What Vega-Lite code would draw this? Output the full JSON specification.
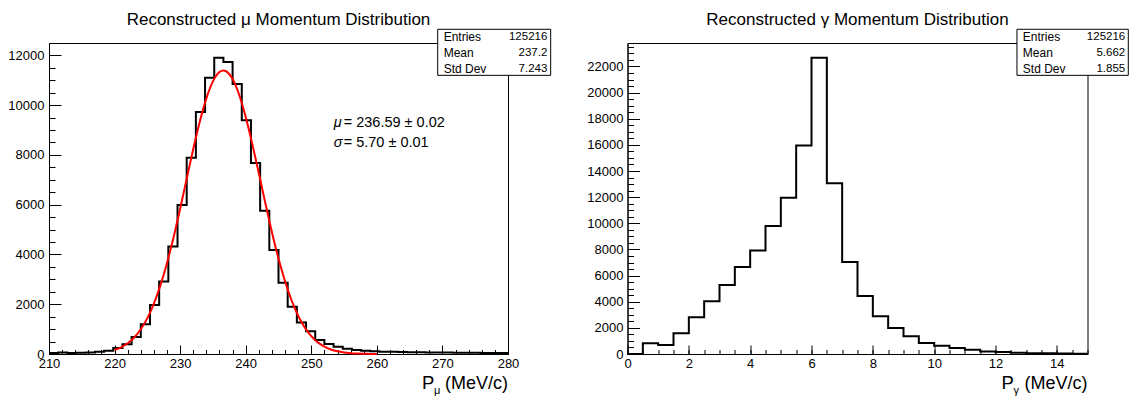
{
  "$schema": "https://vega.github.io/schema/vega-lite/v6.json",
  "background": "white",
  "padding": {"left": 7, "top": 10, "right": 5, "bottom": 0},
  "spacing": 33.5,
  "datasets": {
    "mu": [
      {"p": 210, "count": 40}, {"p": 211.4, "count": 60}, {"p": 212.8, "count": 40}, {"p": 214.2, "count": 50},
      {"p": 215.6, "count": 60}, {"p": 217, "count": 90}, {"p": 218.4, "count": 130}, {"p": 219.8, "count": 240},
      {"p": 221.2, "count": 390}, {"p": 222.6, "count": 680}, {"p": 224, "count": 1200}, {"p": 225.4, "count": 1970},
      {"p": 226.8, "count": 2910}, {"p": 228.2, "count": 4320}, {"p": 229.6, "count": 5990}, {"p": 231, "count": 7880},
      {"p": 232.4, "count": 9720}, {"p": 233.8, "count": 11100}, {"p": 235.2, "count": 11900}, {"p": 236.6, "count": 11730},
      {"p": 238, "count": 10850}, {"p": 239.4, "count": 9390}, {"p": 240.8, "count": 7670}, {"p": 242.2, "count": 5760},
      {"p": 243.6, "count": 4180}, {"p": 245, "count": 2860}, {"p": 246.4, "count": 1900}, {"p": 247.8, "count": 1270},
      {"p": 249.2, "count": 910}, {"p": 250.6, "count": 560}, {"p": 252, "count": 400}, {"p": 253.4, "count": 295},
      {"p": 254.8, "count": 215}, {"p": 256.2, "count": 160}, {"p": 257.6, "count": 135}, {"p": 259, "count": 107},
      {"p": 260.4, "count": 95}, {"p": 261.8, "count": 90}, {"p": 263.2, "count": 85}, {"p": 264.6, "count": 75},
      {"p": 266, "count": 75}, {"p": 267.4, "count": 65}, {"p": 268.8, "count": 60}, {"p": 270.2, "count": 60},
      {"p": 271.6, "count": 55}, {"p": 273, "count": 50}, {"p": 274.4, "count": 50}, {"p": 275.8, "count": 45},
      {"p": 277.2, "count": 40}, {"p": 278.6, "count": 45}, {"p": 280, "count": 45}
    ],
    "mufit": [
      {"p": 220, "f": 165}, {"p": 221, "f": 270}, {"p": 222, "f": 430}, {"p": 223, "f": 664}, {"p": 224, "f": 994},
      {"p": 225, "f": 1441}, {"p": 226, "f": 2027}, {"p": 227, "f": 2765}, {"p": 228, "f": 3659}, {"p": 229, "f": 4693},
      {"p": 230, "f": 5839}, {"p": 231, "f": 7041}, {"p": 232, "f": 8236}, {"p": 233, "f": 9341}, {"p": 234, "f": 10272},
      {"p": 235, "f": 10955}, {"p": 236, "f": 11329}, {"p": 236.59, "f": 11390}, {"p": 237, "f": 11360}, {"p": 238, "f": 11047},
      {"p": 239, "f": 10416}, {"p": 240, "f": 9523}, {"p": 241, "f": 8443}, {"p": 242, "f": 7260}, {"p": 243, "f": 6053},
      {"p": 244, "f": 4893}, {"p": 245, "f": 3835}, {"p": 246, "f": 2916}, {"p": 247, "f": 2149}, {"p": 248, "f": 1536},
      {"p": 249, "f": 1065}, {"p": 250, "f": 716}, {"p": 251, "f": 466}, {"p": 252, "f": 295}, {"p": 253, "f": 181},
      {"p": 254, "f": 107}, {"p": 255, "f": 62}, {"p": 256, "f": 35}, {"p": 257, "f": 19}, {"p": 258, "f": 10},
      {"p": 259, "f": 5}, {"p": 260, "f": 3}
    ],
    "gamma": [
      {"p": 0, "count": 0}, {"p": 0.5, "count": 817}, {"p": 1, "count": 690}, {"p": 1.5, "count": 1580},
      {"p": 2, "count": 2810}, {"p": 2.5, "count": 4030}, {"p": 3, "count": 5280}, {"p": 3.5, "count": 6660},
      {"p": 4, "count": 7910}, {"p": 4.5, "count": 9800}, {"p": 5, "count": 11950}, {"p": 5.5, "count": 15950},
      {"p": 6, "count": 22660}, {"p": 6.5, "count": 13070}, {"p": 7, "count": 7040}, {"p": 7.5, "count": 4440},
      {"p": 8, "count": 2880}, {"p": 8.5, "count": 1990}, {"p": 9, "count": 1350}, {"p": 9.5, "count": 840},
      {"p": 10, "count": 640}, {"p": 10.5, "count": 460}, {"p": 11, "count": 330}, {"p": 11.5, "count": 200},
      {"p": 12, "count": 150}, {"p": 12.5, "count": 100}, {"p": 13, "count": 60}, {"p": 13.5, "count": 50},
      {"p": 14, "count": 30}, {"p": 14.5, "count": 20}, {"p": 15, "count": 20}
    ],
    "one": [{}]
  },
  "hconcat": [
    {
      "width": 459,
      "height": 311,
      "title": {"text": "Reconstructed μ Momentum Distribution", "fontSize": 17, "fontWeight": "normal", "color": "black", "font": "Liberation Sans", "anchor": "middle", "frame": "group", "baseline": "alphabetic", "offset": -13},
      "resolve": {"axis": {"x": "independent", "y": "independent"}},
      "layer": [
        {
          "data": {"name": "mu"},
          "mark": {"type": "line", "interpolate": "step-after", "color": "black", "strokeWidth": 2},
          "encoding": {
            "x": {"field": "p", "type": "quantitative", "scale": {"domain": [210, 280], "nice": false, "zero": false},
              "axis": {"orient": "bottom", "title": null, "format": "d", "values": [210, 220, 230, 240, 250, 260, 270, 280],
                "tickSize": -9, "labelPadding": 12.5, "labelOverlap": false, "labelFlush": false}},
            "y": {"field": "count", "type": "quantitative", "scale": {"domain": [0, 12495], "nice": false},
              "axis": {"orient": "left", "title": null, "format": "d", "values": [0, 2000, 4000, 6000, 8000, 10000, 12000],
                "tickSize": -12, "labelPadding": 17, "labelOverlap": false, "labelFlush": false}}
          }
        },
        {
          "data": {"name": "mufit"},
          "mark": {"type": "line", "interpolate": "monotone", "color": "#ff0000", "strokeWidth": 2},
          "encoding": {
            "x": {"field": "p", "type": "quantitative",
              "axis": {"orient": "bottom", "title": null, "labels": false, "domain": false, "tickSize": -4.5,
                "values": [210,212,214,216,218,220,222,224,226,228,230,232,234,236,238,240,242,244,246,248,250,252,254,256,258,260,262,264,266,268,270,272,274,276,278,280]}},
            "y": {"field": "f", "type": "quantitative",
              "axis": {"orient": "left", "title": null, "labels": false, "domain": false, "tickSize": -6,
                "values": [0,500,1000,1500,2000,2500,3000,3500,4000,4500,5000,5500,6000,6500,7000,7500,8000,8500,9000,9500,10000,10500,11000,11500,12000]}}
          }
        },
        {
          "data": {"name": "one"},
          "mark": {"type": "text", "font": "Liberation Sans", "fontSize": 14.5, "fontStyle": "italic", "align": "left", "baseline": "middle", "color": "black"},
          "encoding": {"x": {"datum": 253.42, "axis": null}, "y": {"datum": 9277, "axis": null}, "text": {"value": "μ"}}
        },
        {
          "data": {"name": "one"},
          "mark": {"type": "text", "font": "Liberation Sans", "fontSize": 14.5, "align": "left", "baseline": "middle", "color": "black", "dx": 10},
          "encoding": {"x": {"datum": 253.42, "axis": null}, "y": {"datum": 9277, "axis": null}, "text": {"value": "= 236.59 ± 0.02"}}
        },
        {
          "data": {"name": "one"},
          "mark": {"type": "text", "font": "Liberation Sans", "fontSize": 14.5, "fontStyle": "italic", "align": "left", "baseline": "middle", "color": "black"},
          "encoding": {"x": {"datum": 253.42, "axis": null}, "y": {"datum": 8472, "axis": null}, "text": {"value": "σ"}}
        },
        {
          "data": {"name": "one"},
          "mark": {"type": "text", "font": "Liberation Sans", "fontSize": 14.5, "align": "left", "baseline": "middle", "color": "black", "dx": 10},
          "encoding": {"x": {"datum": 253.42, "axis": null}, "y": {"datum": 8472, "axis": null}, "text": {"value": "= 5.70 ± 0.01"}}
        },
        {
          "data": {"name": "one"},
          "mark": {"type": "rect", "fill": "white", "stroke": "black", "strokeWidth": 1},
          "encoding": {"x": {"datum": 269.28, "axis": null}, "x2": {"datum": 286.51}, "y": {"datum": 13046, "axis": null}, "y2": {"datum": 11196}}
        },
        {
          "data": {"name": "one"},
          "mark": {"type": "text", "font": "Liberation Sans", "fontSize": 12, "align": "left", "baseline": "middle", "color": "black", "lineHeight": 15.8},
          "encoding": {"x": {"datum": 270.19, "axis": null}, "y": {"datum": 12736, "axis": null}, "text": {"value": ["Entries", "Mean", "Std Dev"]}}
        },
        {
          "data": {"name": "one"},
          "mark": {"type": "text", "font": "Liberation Sans", "fontSize": 11.5, "align": "right", "baseline": "middle", "color": "black", "lineHeight": 15.8},
          "encoding": {"x": {"datum": 286.0, "axis": null}, "y": {"datum": 12736, "axis": null}, "text": {"value": ["125216", "237.2", "7.243"]}}
        },
        {
          "data": {"name": "one"},
          "mark": {"type": "text", "font": "Liberation Sans", "fontSize": 18, "align": "right", "baseline": "alphabetic", "color": "black", "dy": 35},
          "encoding": {"x": {"datum": 280, "axis": null}, "y": {"datum": 0, "axis": null}, "text": {"value": "(MeV/c)"}}
        },
        {
          "data": {"name": "one"},
          "mark": {"type": "text", "font": "Liberation Sans", "fontSize": 18.5, "align": "left", "baseline": "alphabetic", "color": "black", "dy": 35, "dx": -86},
          "encoding": {"x": {"datum": 280, "axis": null}, "y": {"datum": 0, "axis": null}, "text": {"value": "P"}}
        },
        {
          "data": {"name": "one"},
          "mark": {"type": "text", "font": "Liberation Sans", "fontSize": 11, "align": "left", "baseline": "alphabetic", "color": "black", "dy": 40, "dx": -74},
          "encoding": {"x": {"datum": 280, "axis": null}, "y": {"datum": 0, "axis": null}, "text": {"value": "μ"}}
        }
      ]
    },
    {
      "width": 460,
      "height": 311,
      "title": {"text": "Reconstructed γ Momentum Distribution", "fontSize": 17, "fontWeight": "normal", "color": "black", "font": "Liberation Sans", "anchor": "middle", "frame": "group", "baseline": "alphabetic", "offset": -13},
      "resolve": {"axis": {"x": "independent", "y": "independent"}},
      "layer": [
        {
          "data": {"name": "gamma"},
          "mark": {"type": "line", "interpolate": "step-after", "color": "black", "strokeWidth": 2},
          "encoding": {
            "x": {"field": "p", "type": "quantitative", "scale": {"domain": [0, 15], "nice": false, "zero": false},
              "axis": {"orient": "bottom", "title": null, "format": "d", "values": [0, 2, 4, 6, 8, 10, 12, 14],
                "tickSize": -9, "labelPadding": 12.5, "labelOverlap": false, "labelFlush": false}},
            "y": {"field": "count", "type": "quantitative", "scale": {"domain": [0, 23793], "nice": false},
              "axis": {"orient": "left", "title": null, "format": "d", "values": [0, 2000, 4000, 6000, 8000, 10000, 12000, 14000, 16000, 18000, 20000, 22000],
                "tickSize": -12, "labelPadding": 16.5, "labelOverlap": false, "labelFlush": false}}
          }
        },
        {
          "data": {"name": "one"},
          "mark": {"type": "rect", "fill": "white", "stroke": "black", "strokeWidth": 1},
          "encoding": {
            "x": {"datum": 12.70,
              "axis": {"orient": "bottom", "title": null, "labels": false, "domain": false, "tickSize": -4.5,
                "values": [0,0.5,1,1.5,2,2.5,3,3.5,4,4.5,5,5.5,6,6.5,7,7.5,8,8.5,9,9.5,10,10.5,11,11.5,12,12.5,13,13.5,14,14.5,15]}},
            "x2": {"datum": 16.33},
            "y": {"datum": 24843,
              "axis": {"orient": "left", "title": null, "labels": false, "domain": false, "tickSize": -6,
                "values": [0,500,1000,1500,2000,2500,3000,3500,4000,4500,5000,5500,6000,6500,7000,7500,8000,8500,9000,9500,10000,10500,11000,11500,12000,12500,13000,13500,14000,14500,15000,15500,16000,16500,17000,17500,18000,18500,19000,19500,20000,20500,21000,21500,22000,22500,23000,23500]}},
            "y2": {"datum": 21319}
          }
        },
        {
          "data": {"name": "one"},
          "mark": {"type": "text", "font": "Liberation Sans", "fontSize": 12, "align": "left", "baseline": "middle", "color": "black", "lineHeight": 15.8},
          "encoding": {"x": {"datum": 12.89, "axis": null}, "y": {"datum": 24253, "axis": null}, "text": {"value": ["Entries", "Mean", "Std Dev"]}}
        },
        {
          "data": {"name": "one"},
          "mark": {"type": "text", "font": "Liberation Sans", "fontSize": 11.5, "align": "right", "baseline": "middle", "color": "black", "lineHeight": 15.8},
          "encoding": {"x": {"datum": 16.23, "axis": null}, "y": {"datum": 24253, "axis": null}, "text": {"value": ["125216", "5.662", "1.855"]}}
        },
        {
          "data": {"name": "one"},
          "mark": {"type": "text", "font": "Liberation Sans", "fontSize": 18, "align": "right", "baseline": "alphabetic", "color": "black", "dy": 35},
          "encoding": {"x": {"datum": 15, "axis": null}, "y": {"datum": 0, "axis": null}, "text": {"value": "(MeV/c)"}}
        },
        {
          "data": {"name": "one"},
          "mark": {"type": "text", "font": "Liberation Sans", "fontSize": 18.5, "align": "left", "baseline": "alphabetic", "color": "black", "dy": 35, "dx": -86},
          "encoding": {"x": {"datum": 15, "axis": null}, "y": {"datum": 0, "axis": null}, "text": {"value": "P"}}
        },
        {
          "data": {"name": "one"},
          "mark": {"type": "text", "font": "Liberation Sans", "fontSize": 11, "align": "left", "baseline": "alphabetic", "color": "black", "dy": 40, "dx": -74},
          "encoding": {"x": {"datum": 15, "axis": null}, "y": {"datum": 0, "axis": null}, "text": {"value": "γ"}}
        }
      ]
    }
  ],
  "config": {
    "font": "Liberation Sans",
    "view": {"stroke": "black", "strokeWidth": 1},
    "axis": {"grid": false, "domainColor": "black", "tickColor": "black", "labelColor": "black", "labelFontSize": 13, "labelFont": "Liberation Sans", "tickWidth": 1, "domainWidth": 1}
  }
}
